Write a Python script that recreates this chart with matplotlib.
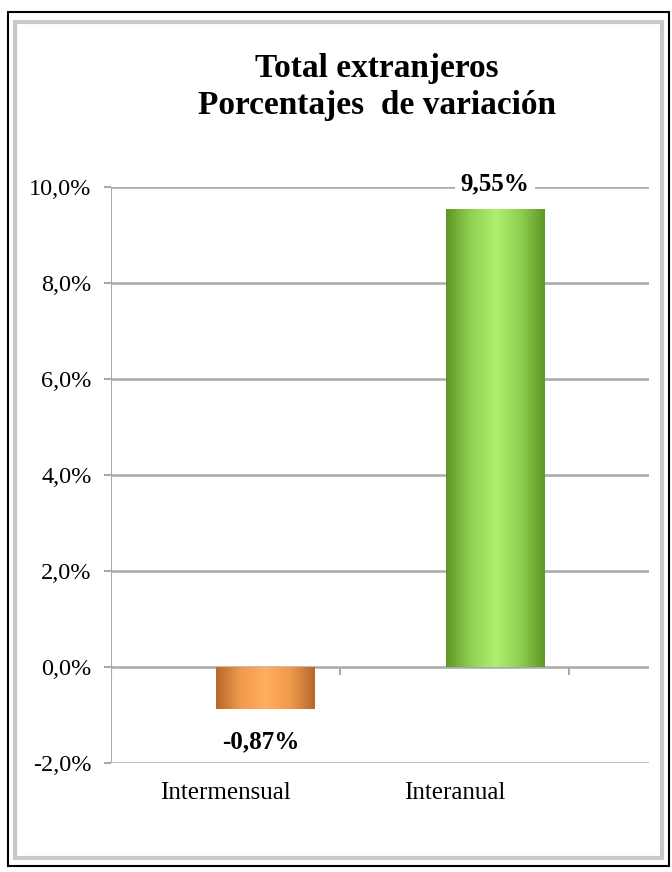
import numpy as np
import matplotlib
matplotlib.use("Agg")
import matplotlib.pyplot as plt
from matplotlib.patches import Rectangle
from matplotlib.colors import LinearSegmentedColormap

categories = ["Intermensual", "Interanual"]
values = [-0.87, 9.55]
value_labels = ["-0,87%", "9,55%"]
yticks = [-2, 0, 2, 4, 6, 8, 10]
ytick_labels = ["-2,0%", "0,0%", "2,0%", "4,0%", "6,0%", "8,0%", "10,0%"]
title = "Total extranjeros\nPorcentajes  de variación"

serif = ["Liberation Serif", "DejaVu Serif"]
plt.rcParams['font.family'] = serif

fig = plt.figure(figsize=(6.72, 8.72), dpi=100)
fig.patch.set_facecolor("white")

# outer frame
fig.patches.append(Rectangle((8/672, 1-866/872), 661/672, 854/872, transform=fig.transFigure,
                             fill=False, edgecolor="black", lw=1.5, zorder=0))
fig.patches.append(Rectangle((15/672, 1-858/872), 647/672, 836/872, transform=fig.transFigure,
                             fill=False, edgecolor="#c8c8c8", lw=3, zorder=0))

ax = fig.add_axes([111/672, 1-763/872, 538/672, 576/872])
ax.set_xlim(-0.5, 1.847)
ax.set_ylim(-2, 10)

grid_c = "#a9a9a9"
for y in yticks:
    ax.axhline(y, color=grid_c, lw=1.8, zorder=1)
for s in ax.spines.values():
    s.set_visible(False)
ax.axvline(-0.5, color=grid_c, lw=1.5, zorder=1)

# category boundary ticks on the zero line
ax.vlines([-0.5, 0.5, 1.5], 0, -0.16, color=grid_c, lw=1.5, zorder=1)

ax.set_yticks(yticks)
ax.set_yticklabels(ytick_labels, fontsize=17.5)
ax.tick_params(axis="y", length=5, color=grid_c, width=1.5, pad=9)
ax.set_xticks(range(len(categories)))
ax.set_xticklabels(categories, fontsize=18)
ax.tick_params(axis="x", length=0, pad=14)

offset = 0.175
width = 0.43
xpos = np.arange(len(categories)) + offset
bars = ax.bar(xpos, values, width=width, color="none", zorder=2)

cmaps = [
    LinearSegmentedColormap.from_list("o", ["#b8682a", "#f09a4c", "#ffae5e", "#f09a4c", "#b8682a"]),
    LinearSegmentedColormap.from_list("g", ["#5f9626", "#90d050", "#b0f070", "#90d050", "#5f9626"]),
]
grad = np.linspace(0, 1, 256).reshape(1, -1)
for b, cm in zip(bars, cmaps):
    x0, y0, w, h = b.get_x(), b.get_y(), b.get_width(), b.get_height()
    im = ax.imshow(grad, cmap=cm, aspect="auto", extent=(x0, x0 + w, y0, y0 + h),
                   zorder=2, interpolation="bicubic")
    im.set_clip_path(b)

# value labels
ax.text(xpos[0] - 0.02, values[0] - 0.68, value_labels[0], ha="center", va="center",
        fontsize=18, fontweight="bold", zorder=4)
ax.text(xpos[1], values[1] + 0.52, value_labels[1], ha="center", va="center",
        fontsize=18, fontweight="bold", zorder=4,
        bbox=dict(facecolor="white", edgecolor="none", pad=4))

ax.set_xlim(-0.5, 1.847)
ax.set_ylim(-2, 10)

fig.text(377/672, 1-87/872, title, ha="center", va="center", fontsize=24,
         fontweight="bold", linespacing=1.25)

fig.savefig("out.png", dpi=100)
